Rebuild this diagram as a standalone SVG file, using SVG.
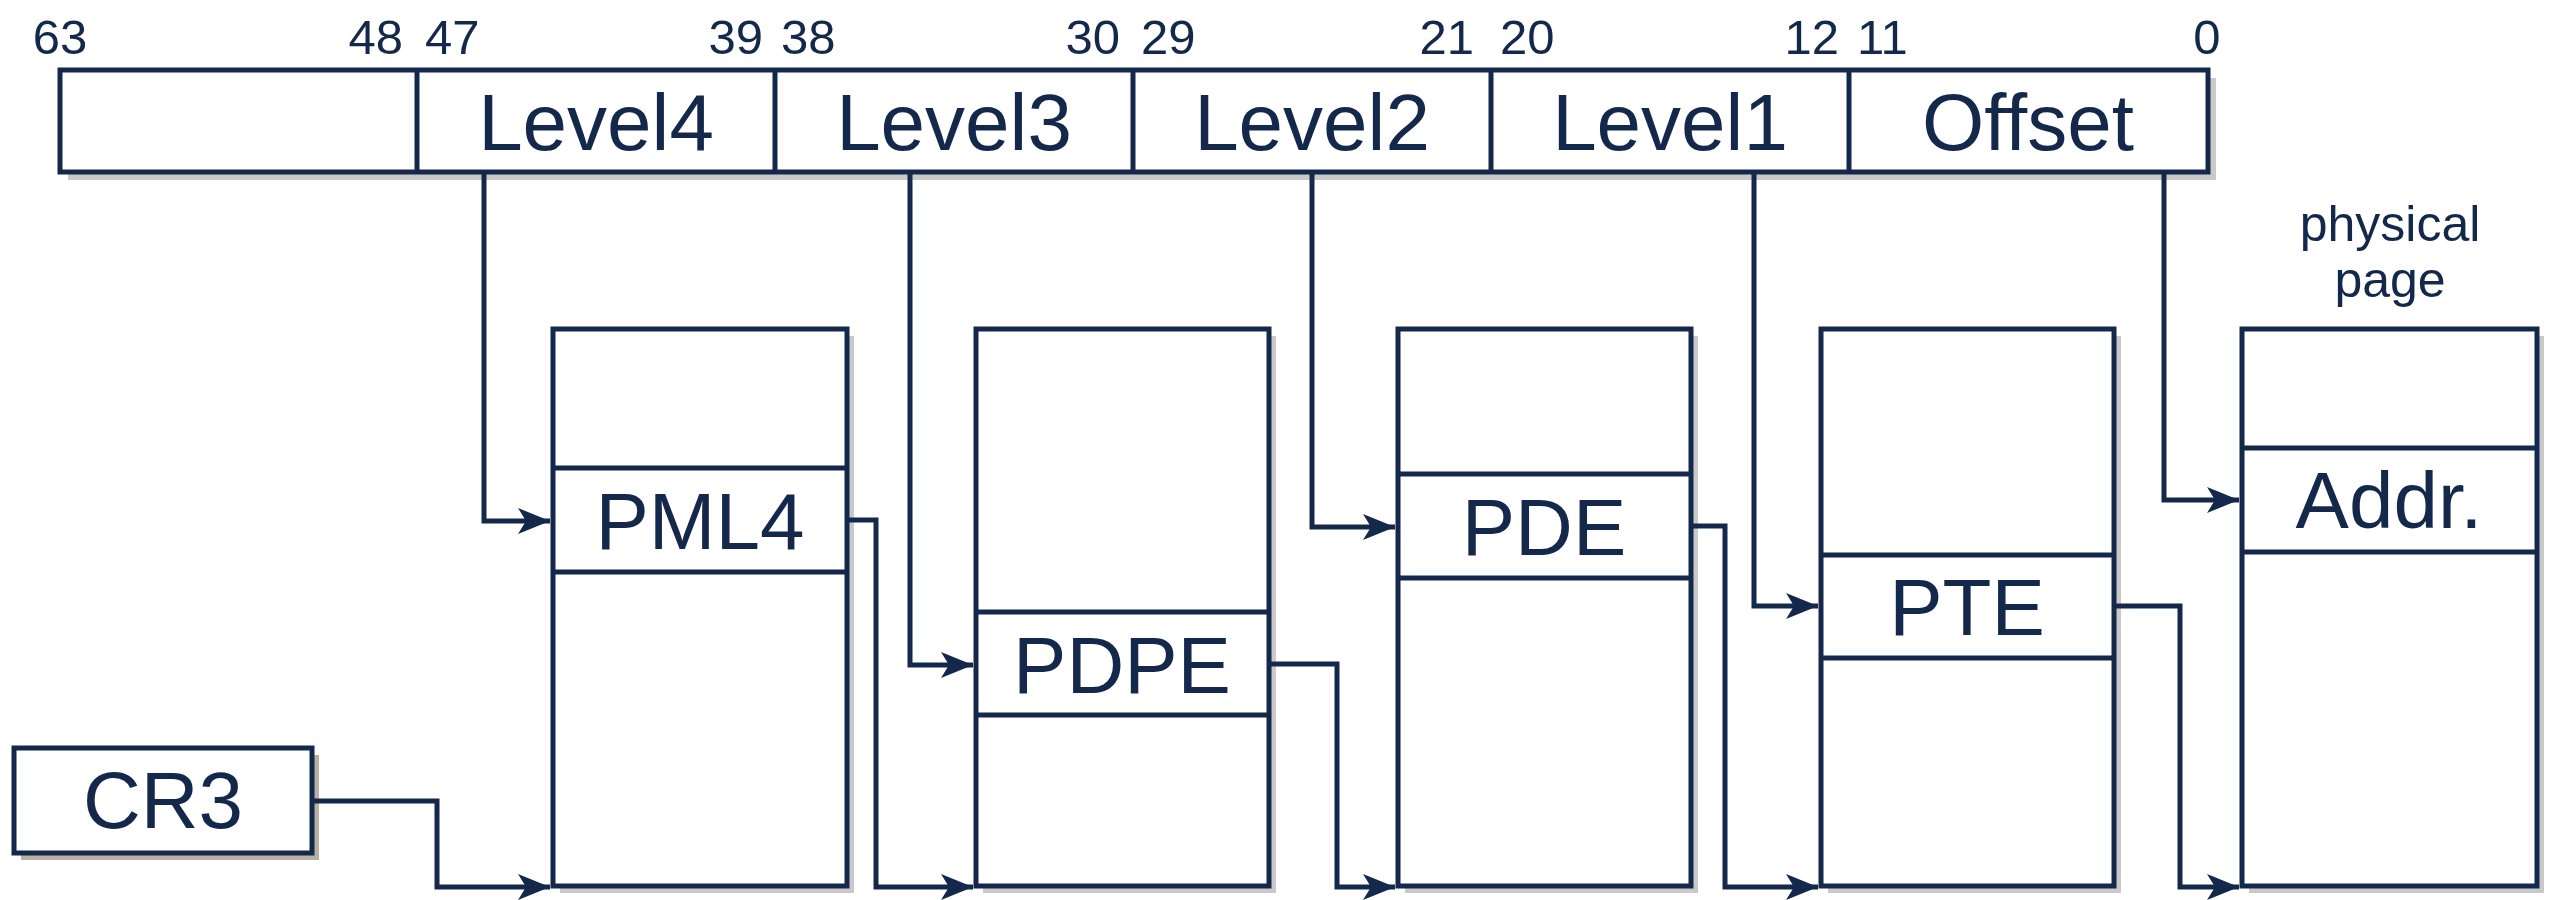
<svg xmlns="http://www.w3.org/2000/svg" width="2555" height="900" viewBox="0 0 2555 900">
<style>
.box{fill:#ffffff;stroke:#14284b;stroke-width:5}
.ln{fill:none;stroke:#14284b;stroke-width:5}
.sh{fill:#c9c9c9}
.big{font-family:"Liberation Sans",Arial,sans-serif;font-size:80px;fill:#14284b;text-anchor:middle}
.num{font-family:"Liberation Sans",Arial,sans-serif;font-size:49px;fill:#14284b}
.cap{font-family:"Liberation Sans",Arial,sans-serif;font-size:50px;fill:#14284b;text-anchor:middle}
.con{fill:none;stroke:#14284b;stroke-width:5;marker-end:url(#arr)}
</style>
<defs>
<marker id="arr" markerUnits="userSpaceOnUse" markerWidth="38" markerHeight="30" refX="34" refY="14" orient="auto">
<path d="M34,14 L2,1 L10,14 L2,27 Z" fill="#14284b"/>
</marker>
</defs>
<rect width="2555" height="900" fill="#ffffff"/>

<g id="address">
<rect class="sh" x="68" y="78" width="2148" height="102"/>
<rect class="box" x="60" y="70" width="2148" height="102"/>
<line class="ln" x1="417" y1="70" x2="417" y2="172"/>
<line class="ln" x1="775" y1="70" x2="775" y2="172"/>
<line class="ln" x1="1133" y1="70" x2="1133" y2="172"/>
<line class="ln" x1="1491" y1="70" x2="1491" y2="172"/>
<line class="ln" x1="1849" y1="70" x2="1849" y2="172"/>
<text class="big" x="596" y="150">Level4</text>
<text class="big" x="954" y="150">Level3</text>
<text class="big" x="1312" y="150">Level2</text>
<text class="big" x="1670" y="150">Level1</text>
<text class="big" x="2028" y="150">Offset</text>
<text class="num" x="60" y="54" text-anchor="middle">63</text>
<text class="num" x="403" y="54" text-anchor="end">48</text>
<text class="num" x="425" y="54">47</text>
<text class="num" x="763" y="54" text-anchor="end">39</text>
<text class="num" x="781" y="54">38</text>
<text class="num" x="1120" y="54" text-anchor="end">30</text>
<text class="num" x="1141" y="54">29</text>
<text class="num" x="1474" y="54" text-anchor="end">21</text>
<text class="num" x="1500" y="54">20</text>
<text class="num" x="1839" y="54" text-anchor="end">12</text>
<text class="num" x="1857" y="54">11</text>
<text class="num" x="2207" y="54" text-anchor="middle">0</text>
</g>

<g id="cr3">
<rect fill="#b8b0a2" x="21" y="755" width="298" height="105"/>
<rect class="box" x="14" y="748" width="298" height="105"/>
<text class="big" x="163" y="828">CR3</text>
</g>

<g id="pml4">
<rect class="sh" x="560" y="336" width="294" height="557"/>
<rect class="box" x="553" y="329" width="294" height="557"/>
<line class="ln" x1="553" y1="468" x2="847" y2="468"/>
<line class="ln" x1="553" y1="572" x2="847" y2="572"/>
<text class="big" x="700" y="549">PML4</text>
</g>

<g id="pdpe">
<rect class="sh" x="983" y="336" width="293" height="557"/>
<rect class="box" x="976" y="329" width="293" height="557"/>
<line class="ln" x1="976" y1="612" x2="1269" y2="612"/>
<line class="ln" x1="976" y1="715" x2="1269" y2="715"/>
<text class="big" x="1122" y="693">PDPE</text>
</g>

<g id="pde">
<rect class="sh" x="1405" y="336" width="293" height="557"/>
<rect class="box" x="1398" y="329" width="293" height="557"/>
<line class="ln" x1="1398" y1="474" x2="1691" y2="474"/>
<line class="ln" x1="1398" y1="578" x2="1691" y2="578"/>
<text class="big" x="1544" y="555">PDE</text>
</g>

<g id="pte">
<rect class="sh" x="1828" y="336" width="293" height="557"/>
<rect class="box" x="1821" y="329" width="293" height="557"/>
<line class="ln" x1="1821" y1="555" x2="2114" y2="555"/>
<line class="ln" x1="1821" y1="658" x2="2114" y2="658"/>
<text class="big" x="1967" y="635">PTE</text>
</g>

<g id="page">
<text class="cap" x="2390" y="241">physical</text>
<text class="cap" x="2390" y="297">page</text>
<rect class="sh" x="2249" y="336" width="295" height="557"/>
<rect class="box" x="2242" y="329" width="295" height="557"/>
<line class="ln" x1="2242" y1="448" x2="2537" y2="448"/>
<line class="ln" x1="2242" y1="552" x2="2537" y2="552"/>
<text class="big" x="2389" y="528">Addr.</text>
</g>

<g id="connectors">
<path class="con" d="M484,174 V521 H550"/>
<path class="con" d="M910,174 V665 H973"/>
<path class="con" d="M1312,174 V527 H1395"/>
<path class="con" d="M1754,174 V606 H1818"/>
<path class="con" d="M2164,174 V500 H2239"/>
<path class="con" d="M314,801 H437 V887 H550"/>
<path class="con" d="M849,520 H876 V887 H973"/>
<path class="con" d="M1271,664 H1337 V887 H1395"/>
<path class="con" d="M1693,526 H1725 V887 H1818"/>
<path class="con" d="M2116,606 H2180 V887 H2239"/>
</g>
</svg>
